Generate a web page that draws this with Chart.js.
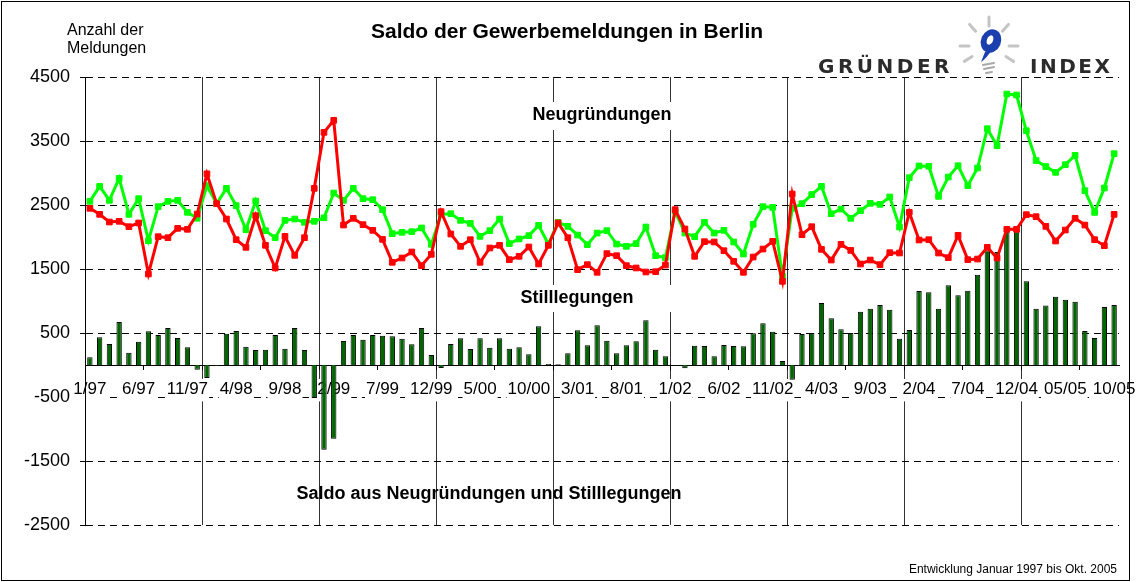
<!DOCTYPE html>
<html>
<head>
<meta charset="utf-8">
<script src="https://cdn.jsdelivr.net/npm/chart.js@4.4.1/dist/chart.umd.min.js"></script>
<style>
	html, body { margin: 0; padding: 0; background: #fff; }
	#wrap { width: 1144px; height: 582px; }
</style>
</head>
<body>
<div id="wrap"><canvas id="myChart" width="1144" height="582"></canvas></div>
<script>
// Neugründungen (green line), Jan 1997 - Oct 2005
var neugruendungen = [
	2557, 2792, 2573, 2917, 2354, 2599, 1943, 2474, 2557, 2573, 2385, 2292,
	2802, 2521, 2760, 2490, 2114, 2562, 2099, 1989, 2260, 2281, 2229, 2245,
	2300, 2687, 2573, 2760, 2599, 2583, 2427, 2052, 2073, 2083, 2141, 1885,
	2354, 2364, 2260, 2213, 2010, 2099, 2281, 1896, 1969, 2021, 2182, 1890,
	2229, 2166, 2031, 1880, 2062, 2099, 1890, 1854, 1896, 2156, 1708, 1677,
	2401, 2062, 2005, 2229, 2062, 2104, 1922, 1734, 2198, 2474, 2463, 1385,
	2448, 2521, 2663, 2792, 2364, 2437, 2292, 2411, 2526, 2510, 2625, 2156,
	2927, 3110, 3105, 2635, 2937, 3114, 2802, 3078, 3692, 3427, 4234, 4219,
	3661, 3195, 3100, 3010, 3130, 3276, 2724, 2385, 2766, 3302
];
// Stilllegungen (red line)
var stilllegungen = [
	2448, 2354, 2234, 2245, 2161, 2219, 1422, 2005, 1989, 2135, 2120, 2359,
	2987, 2521, 2281, 1958, 1838, 2333, 1870, 1516, 2010, 1713, 1989, 2760,
	3635, 3823, 2187, 2292, 2193, 2104, 1963, 1604, 1672, 1766, 1552, 1729,
	2396, 2047, 1854, 1958, 1604, 1828, 1870, 1646, 1698, 1844, 1578, 1870,
	2219, 1989, 1490, 1568, 1448, 1740, 1708, 1552, 1516, 1453, 1458, 1562,
	2427, 2125, 1698, 1927, 1922, 1786, 1620, 1448, 1687, 1812, 1932, 1307,
	2672, 2036, 2161, 1807, 1640, 1885, 1791, 1578, 1640, 1568, 1755, 1750,
	2385, 1953, 1958, 1750, 1677, 2026, 1646, 1656, 1838, 1672, 2120, 2120,
	2349, 2318, 2166, 1937, 2109, 2292, 2187, 1958, 1864, 2354
];
// Saldo (bars)
var saldo = [
	120, 432, 328, 672, 193, 365, 526, 469, 578, 422, 276, -73,
	-203, -15, 490, 531, 286, 234, 240, 469, 255, 578, 234, -516,
	-1323, -1151, 375, 469, 396, 469, 458, 448, 411, 323, 578, 156,
	-47, 328, 417, 250, 417, 271, 417, 255, 276, 167, 604, 15,
	10, 182, 542, 307, 620, 380, 182, 307, 370, 698, 240, 135,
	-10, -52, 302, 297, 135, 312, 297, 292, 495, 651, 521, 62,
	-229, 484, 500, 969, 729, 557, 500, 833, 880, 937, 865, 411,
	547, 1156, 1135, 880, 1245, 1089, 1161, 1411, 1790, 1766, 2104, 2088,
	1307, 880, 930, 1068, 1021, 990, 531, 422, 906, 937
];
var tickLabels = [
	"1/97", "6/97", "11/97", "4/98", "9/98", "2/99", "7/99", "12/99",
	"5/00", "10/00", "3/01", "8/01", "1/02", "6/02", "11/02", "4/03",
	"9/03", "2/04", "7/04", "12/04", "05/05", "10/05"
];
var yMin = -2500, yMax = 4500, yStep = 1000;

var months = [];
for (var i = 0; i < saldo.length; i++) {
	var yr = (97 + Math.floor(i / 12)) % 100;
	months.push((i % 12 + 1) + "/" + (yr < 10 ? "0" + yr : yr));
}

var FONT = "'Liberation Sans', Arial, sans-serif";

var decor = {
	id: "decor",
	afterDraw: function (chart) {
		var ctx = chart.ctx;
		ctx.save();
		// frame
		ctx.strokeStyle = "#000";
		ctx.lineWidth = 1;
		ctx.strokeRect(1.5, 1.5, 1128, 579);

		ctx.fillStyle = "#000";
		ctx.textBaseline = "middle";
		ctx.textAlign = "center";
		ctx.font = "bold 21px " + FONT;
		ctx.fillText("Saldo der Gewerbemeldungen in Berlin", 567, 32);

		ctx.textAlign = "left";
		ctx.font = "16px " + FONT;
		ctx.fillText("Anzahl der", 67, 31);
		ctx.fillText("Meldungen", 67, 49);

		// annotations with white boxes
		ctx.fillStyle = "#fff";
		ctx.fillRect(525, 102, 155, 28);
		ctx.fillRect(512, 285, 168, 27);
		ctx.fillStyle = "#000";
		ctx.textAlign = "center";
		ctx.font = "bold 18px " + FONT;
		ctx.fillText("Neugründungen", 602, 115);
		ctx.fillText("Stilllegungen", 577, 298);
		ctx.fillText("Saldo aus Neugründungen und Stilllegungen", 489, 494);

		ctx.textAlign = "right";
		ctx.font = "12px " + FONT;
		ctx.fillText("Entwicklung Januar 1997 bis Okt. 2005", 1117, 570);

		// logo
		ctx.textAlign = "left";
		ctx.textBaseline = "alphabetic";
		ctx.fillStyle = "#2b2b2b";
		ctx.font = "bold 20px 'DejaVu Sans', sans-serif";
		ctx.letterSpacing = "3.5px";
		ctx.fillText("GRÜNDER", 818, 73);
		ctx.letterSpacing = "2.5px";
		ctx.fillText("INDEX", 1030, 73);
		ctx.letterSpacing = "0px";

		var cx = 989, cy = 46;
		ctx.strokeStyle = "#c4c4c4";
		ctx.lineWidth = 3;
		ctx.lineCap = "round";
		[-90, -132, -48, 180, 0, 148, 32].forEach(function (a) {
			var r = a * Math.PI / 180;
			ctx.beginPath();
			ctx.moveTo(cx + Math.cos(r) * 20, cy + Math.sin(r) * 20);
			ctx.lineTo(cx + Math.cos(r) * 29, cy + Math.sin(r) * 29);
			ctx.stroke();
		});
		// blue swirl
		ctx.fillStyle = "#1c3fae";
		ctx.beginPath();
		ctx.ellipse(cx + 2, cy - 5, 10, 12, 0.4, 0, 2 * Math.PI);
		ctx.fill();
		ctx.beginPath();
		ctx.moveTo(cx + 4, cy + 2);
		ctx.quadraticCurveTo(cx - 2, cy + 12, cx - 8, cy + 16);
		ctx.lineTo(cx - 4, cy + 6);
		ctx.closePath();
		ctx.fill();
		ctx.fillStyle = "#fff";
		ctx.beginPath();
		ctx.ellipse(cx + 1, cy - 6, 3, 5, 0.4, 0, 2 * Math.PI);
		ctx.fill();
		// bulb base
		ctx.strokeStyle = "#a8a8a8";
		ctx.lineWidth = 2;
		ctx.beginPath();
		ctx.moveTo(cx - 6, cy + 19); ctx.lineTo(cx + 5, cy + 17);
		ctx.moveTo(cx - 5, cy + 23); ctx.lineTo(cx + 5, cy + 21);
		ctx.moveTo(cx - 3, cy + 27); ctx.lineTo(cx + 3, cy + 26);
		ctx.stroke();
		ctx.restore();
	}
};

document.addEventListener("DOMContentLoaded", function () {
	var ctx = document.getElementById("myChart").getContext("2d");
	var myChart = new Chart(ctx, {
		type: "bar",
		data: {
			labels: months,
			datasets: [
				{
					type: "line",
					label: "Stilllegungen",
					data: stilllegungen,
					borderColor: "#ff0000",
					backgroundColor: "#ff0000",
					borderWidth: 3,
					pointStyle: "rect",
					pointRadius: 4,
					pointBorderWidth: 1,
					tension: 0,
					fill: false,
					order: 1,
				},
				{
					type: "line",
					label: "Neugründungen",
					data: neugruendungen,
					borderColor: "#00ff00",
					backgroundColor: "#00ff00",
					borderWidth: 3,
					pointStyle: "rect",
					pointRadius: 4,
					pointBorderWidth: 1,
					tension: 0,
					fill: false,
					order: 2,
				},
				{
					label: "Saldo",
					data: saldo,
					backgroundColor: "#006600",
					borderColor: "#000",
					borderWidth: 1,
					barPercentage: 0.55,
					categoryPercentage: 1.0,
					order: 3,
				},
			],
		},
		options: {
			responsive: false,
			animation: false,
			layout: { padding: { top: 77, bottom: 57, left: 0, right: 25 } },
			plugins: {
				legend: { display: false },
				tooltip: { enabled: false },
			},
			scales: {
				x: {
					position: { y: 0 },
					offset: true,
					grid: {
						offset: true,
						lineWidth: 1,
						tickLength: 4,
						color: function (c) {
							return c.index > 0 && c.index < 106 && c.index % 12 === 0 ? "#333" : "rgba(0,0,0,0)";
						},
						tickColor: function (c) {
							return c.index % 6 === 0 ? "#000" : "rgba(0,0,0,0)";
						},
					},
					border: { display: true, color: "#000", width: 1 },
					ticks: {
						autoSkip: false,
						maxRotation: 0,
						minRotation: 0,
						padding: 10,
						color: "#000",
						font: { family: FONT, size: 17 },
						showLabelBackdrop: true,
						backdropPadding: { top: 0, bottom: 2, left: 1, right: 1 },
						backdropColor: function (c) {
							return c.index % 5 === 0 ? "#fff" : "rgba(0,0,0,0)";
						},
						callback: function (value, index) {
							return index % 5 === 0 ? tickLabels[index / 5] : "";
						},
					},
					afterFit: function (s) {
						s.paddingLeft = 0;
						s.paddingRight = 0;
					},
				},
				y: {
					min: yMin,
					max: yMax,
					ticks: {
						stepSize: yStep,
						color: "#000",
						padding: 10,
						font: { family: FONT, size: 18 },
						callback: function (v) { return String(v); },
					},
					grid: { color: "#000", lineWidth: 1, tickLength: 5, tickColor: "#000" },
					border: { display: true, color: "#000", width: 1, dash: [7, 5] },
					afterFit: function (s) {
						s.width = 85;
						s.paddingTop = 0;
						s.paddingBottom = 0;
					},
				},
			},
		},
		plugins: [decor],
	});
});
</script>
</body>
</html>
